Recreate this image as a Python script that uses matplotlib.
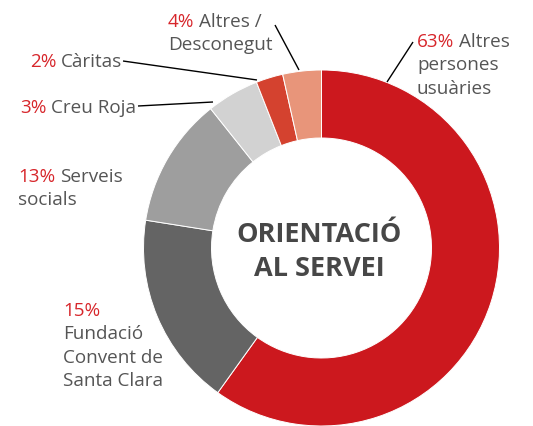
import matplotlib
matplotlib.use("Agg")
import matplotlib.pyplot as plt

# Data (slice shares as drawn, clockwise from top) and label texts
categories = ["Altres persones usuàries", "Fundació Convent de Santa Clara",
              "Serveis socials", "Creu Roja", "Càritas", "Altres / Desconegut"]
shares = [59.9, 17.6, 11.8, 4.75, 2.45, 3.5]
pct_labels = ["63%", "15%", "13%", "3%", "2%", "4%"]
label_lines = [
    ["Altres", "persones", "usuàries"],
    ["", "Fundació", "Convent de", "Santa Clara"],
    ["Serveis", "socials"],
    ["Creu Roja"],
    ["Càritas"],
    ["Altres /", "Desconegut"],
]
colors = ["#CC181E", "#646464", "#9E9E9E", "#D2D2D2", "#D4422F", "#E8957A"]
center_title = ["ORIENTACIÓ", "AL SERVEI"]

W, H = 533, 426
fig = plt.figure(figsize=(W / 100, H / 100), dpi=100)
ax = fig.add_axes([0, 0, 1, 1])

cx, cy, R, ring = 321.5, H - 248, 178, 68
ax.pie(shares, colors=colors, startangle=90, counterclock=False,
       center=(cx, cy), radius=R, frame=True,
       wedgeprops=dict(width=ring, edgecolor="white", linewidth=0.7))
ax.set_xlim(0, W)
ax.set_ylim(0, H)
ax.set_aspect("auto")
ax.axis("off")

FONT = "Open Sans"
GRAY = "#555555"
RED = "#D7262B"
FS = 13.6
renderer = fig.canvas.get_renderer()

# label positions: (x of left edge, baseline y of first line), in pixels from top
label_pos = [(417, 47), (63, 316), (18, 182), (20, 113), (30, 67), (168, 27)]
line_gap = 23.3

for i, (lx, ly) in enumerate(label_pos):
    lines = label_lines[i]
    for j, line in enumerate(lines):
        y = H - (ly + j * line_gap)
        if j == 0:
            t = ax.text(lx, y, pct_labels[i], color=RED, fontsize=FS,
                        family=FONT, ha="left", va="baseline")
            if line:
                w = t.get_window_extent(renderer).width
                ax.text(lx + w + 4.5, y, line, color=GRAY, fontsize=FS,
                        family=FONT, ha="left", va="baseline")
        else:
            ax.text(lx, y, line, color=GRAY, fontsize=FS, family=FONT,
                    ha="left", va="baseline")

# leader lines (pixel coords from top)
leaders = [
    ((413, 42), (387, 82)),
    ((275, 25), (299, 70)),
    ((123, 61), (257, 80)),
    ((138, 106), (213, 102)),
]
for (x0, y0), (x1, y1) in leaders:
    ax.plot([x0, x1], [H - y0, H - y1], color="black", lw=1.0,
            solid_capstyle="butt")

for k, line in enumerate(center_title):
    ax.text(319.5, H - (242 + k * 33.5), line, color="#474747", fontsize=19.5,
            fontweight="bold", family=FONT, ha="center", va="baseline")

fig.savefig("out.png", dpi=100)
